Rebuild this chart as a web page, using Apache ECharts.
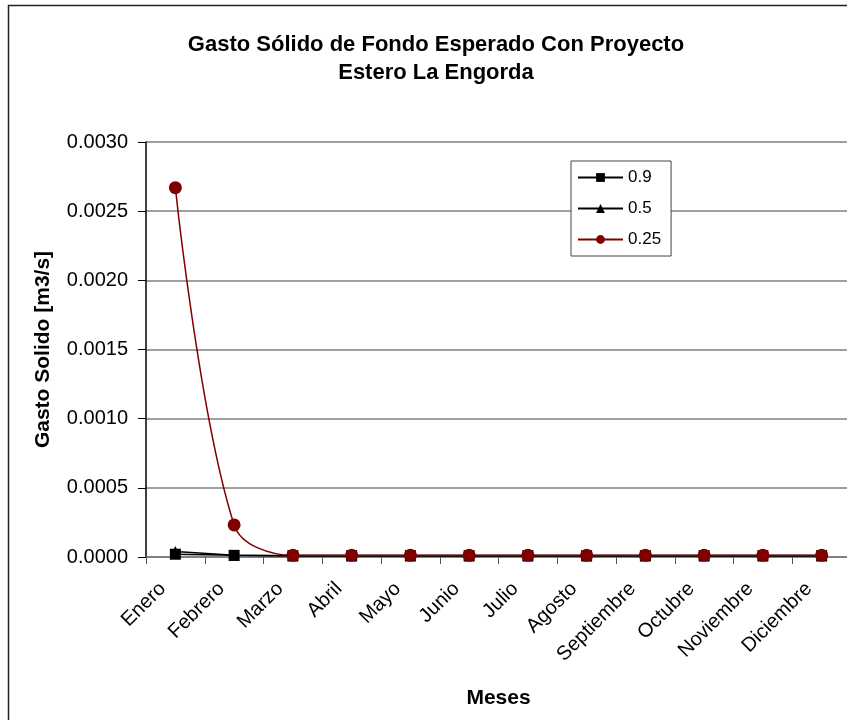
<!DOCTYPE html>
<html><head><meta charset="utf-8">
<script src="https://cdn.jsdelivr.net/npm/echarts@6/dist/echarts.min.js"></script>
<style>html,body{margin:0;padding:0;background:#fff}#c{width:847px;height:720px}</style>
</head><body><div id="c"></div>
<script>
const months = ['Enero','Febrero','Marzo','Abril','Mayo','Junio','Julio','Agosto','Septiembre','Octubre','Noviembre','Diciembre'];
const s09 = [0.000020,0.000012,0.000010,0.000010,0.000010,0.000010,0.000010,0.000010,0.000010,0.000010,0.000010,0.000010];
const s05 = [0.000040,0.000012,0.000008,0.000008,0.000008,0.000008,0.000008,0.000008,0.000008,0.000008,0.000008,0.000008];
const s025 = [0.00267,0.000232,0.000012,0.000012,0.000012,0.000012,0.000012,0.000012,0.000012,0.000012,0.000012,0.000012];
const yTicks = [0,0.0005,0.001,0.0015,0.002,0.0025,0.003];
const font = 'Liberation Sans, Arial, sans-serif';
const chart = echarts.init(document.getElementById('c'));
chart.setOption({
  animation:false,
  graphic:[{type:'rect',shape:{x:8.5,y:5.5,width:900,height:800},style:{fill:'none',stroke:'#222',lineWidth:1.5},z:-1}],
  title:{text:'Gasto Sólido de Fondo Esperado Con Proyecto\nEstero La Engorda',left:431,top:26,textAlign:'center',
    textStyle:{fontFamily:font,fontSize:22,fontWeight:'bold',color:'#000',lineHeight:28}},
  legend:{orient:'vertical',left:571,top:161,itemWidth:45,itemHeight:11,itemGap:14,padding:[8,10,8,6],
    backgroundColor:'#fff',borderColor:'#444',borderWidth:1,borderRadius:0,
    textStyle:{fontFamily:font,fontSize:17,color:'#000'},
    data:['0.9','0.5','0.25']},
  grid:{left:146,top:142,width:705,height:415,outerBoundsMode:'none',containLabel:false},
  xAxis:{type:'category',data:months,boundaryGap:true,
    axisLine:{lineStyle:{color:'#777',width:1.5}},
    axisTick:{show:true,length:7,lineStyle:{color:'#555'},alignWithLabel:false},
    axisLabel:{rotate:45,fontFamily:font,fontSize:20,color:'#000',margin:16,interval:0,padding:[0,18,0,0]},
    name:'Meses',nameLocation:'middle',nameGap:131,
    nameTextStyle:{fontFamily:font,fontSize:21,fontWeight:'bold',color:'#000'}},
  yAxis:{type:'value',min:0,max:0.003,interval:0.0005,
    axisLine:{show:true,lineStyle:{color:'#000',width:1.5}},
    axisTick:{show:true,length:8,inside:false,lineStyle:{color:'#000'}},
    splitLine:{lineStyle:{color:'#808080',width:1.5}},
    axisLabel:{fontFamily:font,fontSize:20,color:'#000',margin:18,formatter:v=>v.toFixed(4)},
    name:'Gasto Solido [m3/s]',nameLocation:'middle',nameGap:92,
    nameTextStyle:{fontFamily:font,fontSize:21,fontWeight:'bold',color:'#000'}},
  series:[
    {name:'0.9',type:'line',data:s09,symbol:'rect',symbolSize:11,itemStyle:{color:'#000'},lineStyle:{color:'#000',width:1.5},z:3},
    {name:'0.5',type:'line',data:s05,symbol:'triangle',symbolSize:11,itemStyle:{color:'#000'},lineStyle:{color:'#000',width:1.5},z:4},
    {name:'0.25',type:'line',data:s025,symbol:'circle',symbolSize:13,smooth:0.35,itemStyle:{color:'#800000'},lineStyle:{color:'#800000',width:1.5},z:5}
  ]
});
</script></body></html>
